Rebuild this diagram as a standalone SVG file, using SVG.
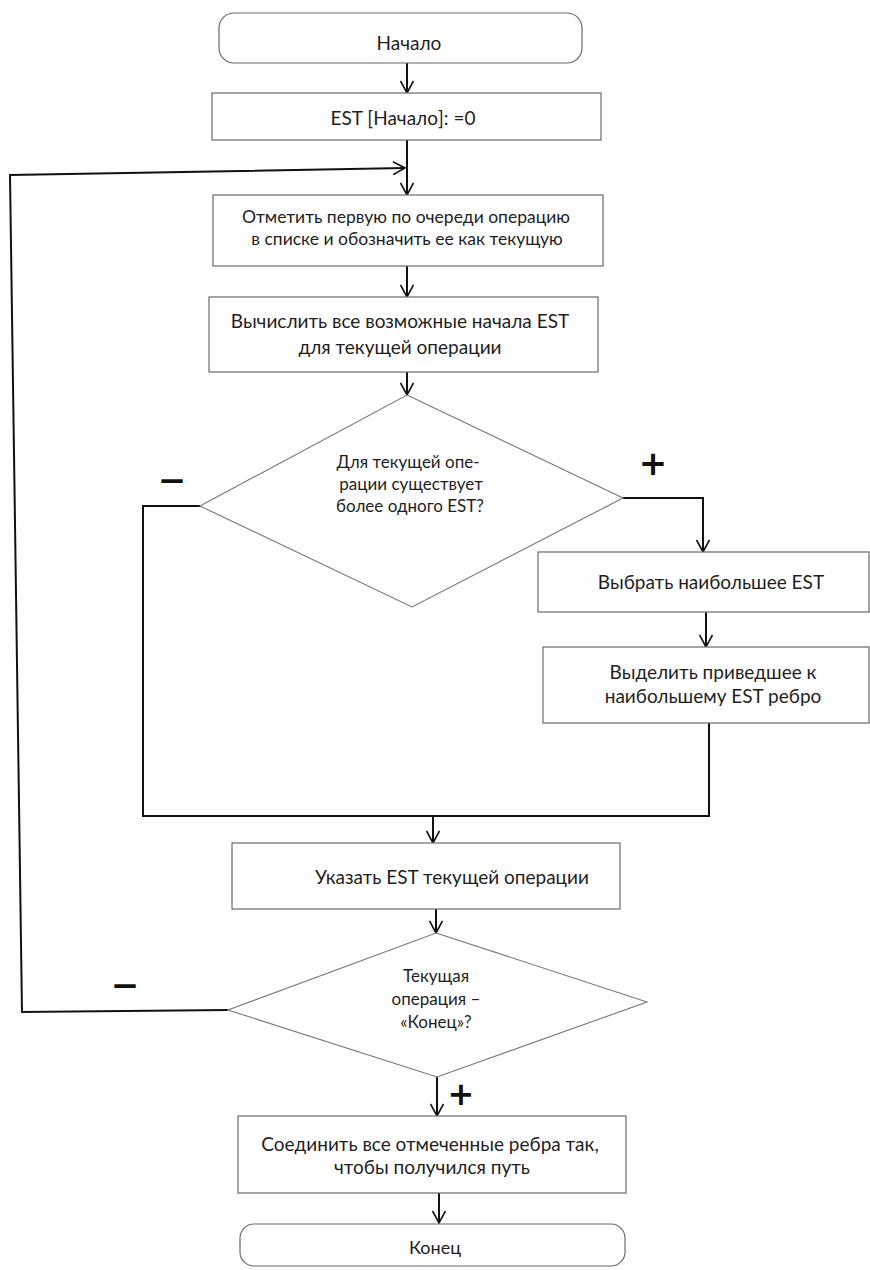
<svg xmlns="http://www.w3.org/2000/svg" width="870" height="1270" viewBox="0 0 870 1270">
<style>
.box{fill:#fff;stroke:#6a6a6a;stroke-width:1.2}
.dia{fill:#fff;stroke:#777;stroke-width:1.1}
.t{font-family:Lato,"Open Sans","Liberation Sans",sans-serif;fill:#1e1e1e;text-anchor:middle}
.c{fill:none;stroke:#111;stroke-width:2}
.sg{font-family:"DejaVu Sans","Liberation Sans",sans-serif;font-weight:bold;fill:#111;text-anchor:middle}
</style>
<defs>
<marker id="ah" viewBox="0 0 14 14" refX="13" refY="7" markerWidth="14" markerHeight="14" markerUnits="userSpaceOnUse" orient="auto">
<path d="M1,0.5 L13,7 L1,13.5" fill="none" stroke="#111" stroke-width="1.6"/>
</marker>
</defs>
<rect width="870" height="1270" fill="#fff"/>
<g id="connectors">
<path class="c" d="M407,63 V93" marker-end="url(#ah)"/>
<path class="c" d="M407,140 V195" marker-end="url(#ah)"/>
<path class="c" d="M228,1010 L22,1012 L10,175 L405,168" marker-end="url(#ah)"/>
<path class="c" d="M407,266 V297" marker-end="url(#ah)"/>
<path class="c" d="M407,372 V395" marker-end="url(#ah)"/>
<path class="c" d="M623,498 H703 V552" marker-end="url(#ah)"/>
<path class="c" d="M706,612 V647" marker-end="url(#ah)"/>
<path class="c" d="M200,506 H143 V816 H709 V723"/>
<path class="c" d="M433,816 V843" marker-end="url(#ah)"/>
<path class="c" d="M436,909 V933" marker-end="url(#ah)"/>
<path class="c" d="M437,1077 V1116" marker-end="url(#ah)"/>
<path class="c" d="M439,1193 V1223" marker-end="url(#ah)"/>
</g>
<g id="start">
<rect class="box" x="219" y="13" width="363" height="50" rx="15"/>
<text class="t" x="409" y="50" font-size="19">Начало</text>
</g>
<g id="est-start">
<rect class="box" x="212" y="93" width="389" height="47"/>
<text class="t" x="403" y="125" font-size="19">EST [Начало]: =0</text>
</g>
<g id="mark-first">
<rect class="box" x="213" y="195" width="390" height="71"/>
<text class="t" x="406" y="223" font-size="17.5">Отметить первую по очереди операцию</text>
<text class="t" x="407" y="245" font-size="17.5">в списке и обозначить ее как текущую</text>
</g>
<g id="compute-est">
<rect class="box" x="209" y="297" width="389" height="75"/>
<text class="t" x="400" y="328" font-size="19">Вычислить все возможные начала EST</text>
<text class="t" x="400" y="354" font-size="19">для текущей операции</text>
</g>
<g id="decision-more-est">
<polygon class="dia" points="407,395 623,498 412,607 200,506"/>
<text class="t" x="408" y="468" font-size="17">Для текущей опе-</text>
<text class="t" x="411" y="490" font-size="17">рации существует</text>
<text class="t" x="410" y="512" font-size="17">более одного EST?</text>
</g>
<g id="pick-max">
<rect class="box" x="538" y="552" width="331" height="60"/>
<text class="t" x="711" y="589" font-size="19">Выбрать наибольшее EST</text>
</g>
<g id="select-edge">
<rect class="box" x="543" y="647" width="326" height="76"/>
<text class="t" x="713" y="679" font-size="19">Выделить приведшее к</text>
<text class="t" x="713" y="703" font-size="19">наибольшему EST ребро</text>
</g>
<g id="set-est">
<rect class="box" x="232" y="843" width="388" height="66"/>
<text class="t" x="452" y="884" font-size="19">Указать EST текущей операции</text>
</g>
<g id="decision-end">
<polygon class="dia" points="436,933 647,1002 437,1077 228,1010"/>
<text class="t" x="436" y="982" font-size="17">Текущая</text>
<text class="t" x="436" y="1005" font-size="17">операция –</text>
<text class="t" x="436" y="1028" font-size="17">«Конец»?</text>
</g>
<g id="join-edges">
<rect class="box" x="238" y="1116" width="388" height="77"/>
<text class="t" x="430" y="1151" font-size="19">Соединить все отмеченные ребра так,</text>
<text class="t" x="432" y="1174" font-size="19">чтобы получился путь</text>
</g>
<g id="end">
<rect class="box" x="240" y="1224" width="385" height="42" rx="14"/>
<text class="t" x="435" y="1254" font-size="18">Конец</text>
</g>
<g id="labels">
<text class="sg" x="172" y="492" font-size="34">−</text>
<text class="sg" x="653" y="475" font-size="34">+</text>
<text class="sg" x="125" y="997" font-size="34">−</text>
<text class="sg" x="461" y="1105" font-size="32">+</text>
</g>
</svg>
